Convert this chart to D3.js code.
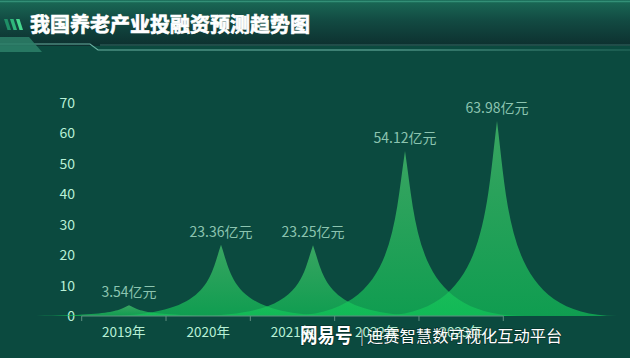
<!DOCTYPE html>
<html><head><meta charset="utf-8">
<script src="https://cdn.jsdelivr.net/npm/d3@7"></script>
<style>
html,body{margin:0;padding:0;background:#0b4a3f;}
svg{display:block;}
text{font-family:"Noto Sans CJK SC","Noto Sans",sans-serif;}
</style></head>
<body>
<svg id="c" width="630" height="358"></svg>
<script>
const title = "我国养老产业投融资预测趋势图";
const categories = ["2019年","2020年","2021年","2022年","2023年"];
const values = [3.54, 23.36, 23.25, 54.12, 63.98];
const valueLabels = ["3.54亿元","23.36亿元","23.25亿元","54.12亿元","63.98亿元"];
const yTicks = [0,10,20,30,40,50,60,70];
const watermarkBrand = "网易号";
const watermarkName = "迪赛智慧数可视化互动平台";

const svg = d3.select("#c");
const W = 630, H = 358;
const defs = svg.append("defs");

// background
svg.append("rect").attr("width",W).attr("height",H).attr("fill","#0b4a3f");

// header
const hg = defs.append("linearGradient").attr("id","hg").attr("x1",0).attr("y1",0).attr("x2",0).attr("y2",1);
hg.append("stop").attr("offset",0).attr("stop-color","#1a6a56");
hg.append("stop").attr("offset",0.45).attr("stop-color","#124a42");
hg.append("stop").attr("offset",1).attr("stop-color","#0d302f");
svg.append("rect").attr("x",0).attr("y",0).attr("width",W).attr("height",46).attr("fill","url(#hg)");
svg.append("line").attr("x1",0).attr("x2",W).attr("y1",1.5).attr("y2",1.5).attr("stroke","#3a9a80").attr("stroke-width",1.5).attr("opacity",0.8);

// header bottom lines
const lg = defs.append("linearGradient").attr("id","lg").attr("x1",0).attr("y1",0).attr("x2",1).attr("y2",0);
lg.append("stop").attr("offset",0).attr("stop-color","#6fb8a8").attr("stop-opacity",0.9);
lg.append("stop").attr("offset",0.6).attr("stop-color","#7cc6b6").attr("stop-opacity",0.9);
lg.append("stop").attr("offset",1).attr("stop-color","#5aa896").attr("stop-opacity",0.4);
svg.append("path").attr("d","M0,44 L90,44 L98,50 L630,50").attr("fill","none").attr("stroke","url(#lg)").attr("stroke-width",1.2);
svg.append("line").attr("x1",100).attr("x2",630).attr("y1",45).attr("y2",45).attr("stroke","#4f8f86").attr("stroke-width",1).attr("opacity",0.6);
// left trapezoid
svg.append("path").attr("d","M0,37 L29,37 L42,52 L0,52 Z").attr("fill","#2d8068").attr("opacity",0.85);
// stripes
const stripeColors = ["#1f8f66","#2fb77c","#46d88f"];
stripeColors.forEach((c,i)=>{
  const x = 4 + i*6;
  svg.append("path").attr("d",`M${x},19 L${x+3.5},19 L${x+7},30 L${x+3.5},30 Z`).attr("fill",c);
});
svg.append("text").attr("x",30).attr("y",32).attr("fill","#ffffff").attr("font-size",20).attr("font-weight",700)
  .attr("stroke","#ffffff").attr("stroke-width",0.7).text(title);

// scales
const y = d3.scaleLinear().domain([0,70]).range([316,102.7]);
const x = d3.scaleBand().domain(categories).range([81.7,503.3]).padding(0);
const peakX = d3.scalePoint().domain(categories).range([129,497]);
const halfW = 120;

// y axis labels
svg.append("g").selectAll("text").data(yTicks).join("text")
  .attr("x",75).attr("y",d=>y(d)).attr("dy","0.36em").attr("text-anchor","end")
  .attr("fill","#b8f0d6").attr("font-size",14).text(d=>d);

// gradient for shapes
const sg = defs.append("linearGradient").attr("id","sg").attr("x1",0).attr("y1",0).attr("x2",0).attr("y2",1);
sg.append("stop").attr("offset",0).attr("stop-color","rgb(80,212,115)");
sg.append("stop").attr("offset",1).attr("stop-color","rgb(18,200,89)");

function spike(d,i){
  const px = peakX(categories[i]), top = y(d), y0 = y(0);
  const X = a => px - halfW + a/10*2*halfW;
  const Y = b => top + b/10*(y0-top);
  const p = d3.path();
  p.moveTo(X(0),Y(10));
  p.lineTo(X(10),Y(10));
  p.bezierCurveTo(X(5.5),Y(10),X(5.5),Y(5),X(5),Y(0));
  p.bezierCurveTo(X(4.5),Y(5),X(4.5),Y(10),X(0),Y(10));
  p.closePath();
  return p.toString();
}
svg.append("g").selectAll("path").data(values).join("path")
  .attr("d",spike).attr("fill","url(#sg)").attr("fill-opacity",0.66);

// x axis
const xAxis = svg.append("g").attr("transform",`translate(0,${y(0)})`);
xAxis.append("line").attr("x1",x.range()[0]).attr("x2",x.range()[1]).attr("y1",0).attr("y2",0)
  .attr("stroke","#5f8f80").attr("stroke-width",1);
const bounds = categories.map(c=>x(c)).concat([x.range()[1]]);
xAxis.selectAll("line.tk").data(bounds).join("line").attr("class","tk")
  .attr("x1",d=>d).attr("x2",d=>d).attr("y1",0).attr("y2",5).attr("stroke","#5f8f80");
xAxis.selectAll("text").data(categories).join("text")
  .attr("x",d=>x(d)+x.bandwidth()/2).attr("y",21).attr("text-anchor","middle")
  .attr("fill","#b8f0d6").attr("font-size",13.5).text(d=>d);

// value labels
svg.append("g").selectAll("text").data(values).join("text")
  .attr("x",(d,i)=>peakX(categories[i])).attr("y",d=>y(d)-8).attr("text-anchor","middle")
  .attr("fill","#8cc4b0").attr("font-size",14).text((d,i)=>valueLabels[i]);

// watermark
const wm = svg.append("g").attr("fill","#ffffff").style("paint-order","stroke").attr("stroke","rgba(0,0,0,0.3)").attr("stroke-width",1.5);
wm.append("text").attr("x",300).attr("y",343).attr("font-size",17.5).attr("font-weight",700)
  .attr("transform","translate(300,343) scale(1,1.15) translate(-300,-343)").text(watermarkBrand);
wm.append("text").attr("x",360).attr("y",342).attr("font-size",15).attr("font-weight",300).text("|");
wm.append("text").attr("x",367).attr("y",342).attr("font-size",16.3).text(watermarkName);
</script>
</body></html>
